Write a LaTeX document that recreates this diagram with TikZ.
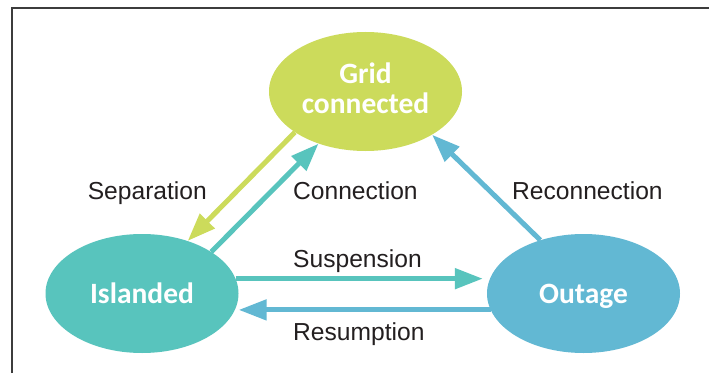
\documentclass[tikz,border=0pt]{standalone}
\usepackage{fontspec}
\setmainfont{Liberation Sans}
\newfontfamily\statefont{Carlito}
\usetikzlibrary{arrows.meta,shapes.geometric}
\definecolor{gridc}{HTML}{CCDB5B}
\definecolor{islc}{HTML}{58C4BD}
\definecolor{outc}{HTML}{62B8D3}
\definecolor{labc}{HTML}{231F20}
\definecolor{framec}{HTML}{3C3C3C}
\begin{document}
\begin{tikzpicture}[x=1pt,y=1pt,
  state/.style={ellipse, minimum width=193pt, minimum height=119pt, inner sep=0pt,
    text=white, font=\statefont\bfseries\fontsize{29.5}{30}\selectfont, align=center},
  arr/.style={line width=5pt, -{Triangle[length=28pt,width=20pt]}},
  lab/.style={font=\fontsize{24.6}{28}\selectfont, text=labc, inner sep=0pt}]
\useasboundingbox (0,0) rectangle (709,373);
\fill[white] (0,0) rectangle (709,373);
% frame
\draw[framec, line width=2pt] (11.8,0) -- (11.8,364.7) -- (709,364.7);
% states
\node[state, fill=gridc, text depth=6pt] (grid) at (365.5,281.5) {Grid\\connected};
\node[state, fill=islc, text height=20pt, text depth=0pt] (isl) at (142,79.5) {Islanded};
\node[state, fill=outc, text height=20pt, text depth=0pt] (out) at (583.5,79.5) {Outage};
% transitions
\draw[arr, gridc] (grid.210.5) -- (isl.49);
\draw[arr, islc] (isl.31.5) -- (grid.228);
\draw[arr, outc] (out.129.1) -- (grid.327.2);
\draw[arr, islc, shorten >=4pt] (isl.9) -- (isl.9 -| out.west);
\draw[arr, outc] (out.190.75) -- (out.190.75 -| isl.east);
% labels
\node[lab, anchor=base east] (lsep) at (207,174) {Separation};
\node[lab, anchor=base west] (lcon) at (293,174) {Connection};
\node[lab, anchor=base west] (lrec) at (512,174) {Reconnection};
\node[lab, anchor=base west] (lsus) at (293,106) {Suspension};
\node[lab, anchor=base west] (lres) at (293,33) {Resumption};
\end{tikzpicture}
\end{document}
